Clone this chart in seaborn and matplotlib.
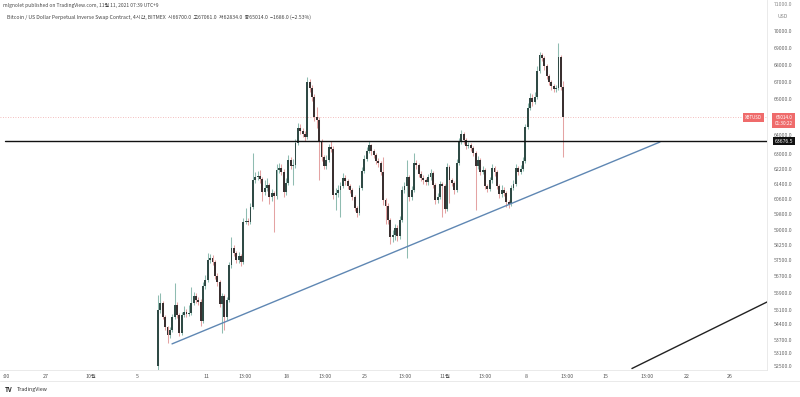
import numpy as np
import pandas as pd
import matplotlib
matplotlib.use("Agg")
import matplotlib.pyplot as plt
import seaborn as sns
from matplotlib.ticker import NullLocator

# 4시간봉 종가 / 고가 / 저가
first_open = 52490.0
closes = [
    55080, 55410, 54750, 54280, 53910, 54140, 54750, 55320, 54850, 54000,
    54850, 54990, 54890, 54940, 55410, 55750, 55560, 55460, 54560, 56230,
    56520, 57500, 57600, 57400, 56710, 56420, 55370, 55750, 54750, 55560,
    57250, 58100, 57850, 57500, 57700, 57400, 59410, 59460, 59410, 60180,
    61590, 61750, 61800, 61640, 60960, 61170, 61330, 60700, 60910, 60750,
    62120, 62230, 62010, 60960, 61430, 62660, 62340, 62390, 63580, 64400,
    64240, 64070, 63910, 67000, 66660, 66140, 65020, 64850, 63630, 62820,
    62340, 62660, 63360, 63250, 60800, 60910, 61060, 61270, 61700, 61540,
    61270, 61060, 60700, 60130, 59870, 61170, 62070, 62710, 63140, 63470,
    63140, 62930, 62600, 62500, 62010, 60540, 60230, 59510, 58650, 58750,
    59100, 58700, 59510, 61060, 61270, 61750, 60700, 61060, 62500, 62390,
    61910, 61700, 61590, 61480, 61750, 61960, 61330, 60540, 60700, 61380,
    61270, 60070, 62280, 61590, 61430, 61060, 62500, 63630, 64070, 63740,
    63420, 63470, 63310, 63040, 62340, 62660, 62010, 62120, 61270, 61120,
    61590, 62230, 62010, 61270, 60850, 61060, 60910, 60440, 60330, 61170,
    61380, 62230, 62010, 62170, 62600, 64460, 65520, 66080, 65860, 66140,
    67640, 68570, 68400, 67930, 67350, 67000, 66770, 66600, 66660, 68450,
    66700, 65014,
]
highs = [
    55800, 55900, 55500, 54850, 54350, 54300, 54900, 56370, 55450, 54950,
    55000, 55250, 55150, 55300, 56180, 55950, 55900, 55700, 55600, 56400,
    56750, 57850, 57800, 57750, 57500, 56850, 56500, 55900, 55850, 55700,
    57400, 58650, 58250, 57950, 57900, 57800, 59600, 60120, 59600, 60400,
    63040, 62000, 62050, 62100, 61750, 61600, 61700, 61450, 61100, 61000,
    62450, 62500, 62450, 62150, 61700, 62950, 62800, 62700, 63800, 64700,
    64600, 64400, 64250, 67290, 67150, 66800, 66300, 65600, 65000, 63800,
    62950, 62900, 63550, 63700, 63400, 61150, 61300, 61500, 61950, 61850,
    61650, 61400, 61150, 60800, 60250, 61350, 62300, 62900, 63350, 63700,
    63550, 63250, 63050, 62750, 62600, 62820, 60650, 60400, 59600, 59000,
    59300, 59250, 59700, 61250, 61500, 62660, 61850, 61250, 63040, 62650,
    62500, 62050, 61850, 61700, 61900, 62200, 62050, 61450, 60900, 61550,
    61500, 61400, 62500, 62400, 61700, 61550, 62700, 63850, 64290, 64200,
    63850, 63650, 63600, 63400, 63150, 62850, 62750, 62350, 62250, 61400,
    61750, 62450, 62350, 62100, 61400, 61300, 61200, 61000, 60550, 61350,
    61600, 62450, 62350, 62400, 62800, 64650, 65800, 66350, 66300, 66450,
    67900, 68750, 68700, 68500, 68050, 67450, 67100, 66900, 66850, 69280,
    68600, 67061,
]
lows = [
    52100, 54950, 54650, 54150, 53540, 53750, 54050, 54650, 54700, 53850,
    53900, 54750, 54750, 54800, 54850, 55300, 55400, 55300, 54350, 54450,
    56100, 56400, 57350, 57250, 56550, 56250, 55200, 54000, 54140, 54600,
    55450, 57100, 57700, 57350, 57350, 57200, 57300, 59300, 59250, 59300,
    60050, 61450, 61600, 61450, 60500, 60800, 61000, 60350, 60500, 58900,
    60600, 61950, 61850, 60700, 60800, 61300, 62150, 61330, 62250, 63450,
    64050, 63900, 63700, 63800, 66450, 65900, 64800, 64400, 61590, 62600,
    62150, 62200, 62550, 63100, 60600, 60020, 60700, 59660, 61150, 61350,
    61100, 60900, 60550, 59950, 59650, 59750, 61050, 61950, 62600, 63050,
    62950, 62750, 62450, 62300, 61850, 60300, 59300, 59300, 58300, 58400,
    58500, 58450, 58550, 59400, 60900, 57600, 60500, 60550, 60950, 62200,
    61750, 61550, 61400, 61300, 61350, 61600, 61150, 60350, 60400, 60600,
    59660, 59850, 59950, 60380, 61250, 60850, 60950, 62400, 63500, 63550,
    63250, 63300, 63150, 62850, 60020, 62200, 61850, 61900, 61100, 60950,
    61000, 61450, 61800, 61100, 60650, 60700, 60750, 60180, 60100, 60250,
    61050, 61250, 61850, 61900, 62050, 62500, 64350, 65400, 65650, 65750,
    66000, 67500, 68200, 67700, 67150, 66800, 66550, 66400, 66450, 66550,
    66550, 62834,
]

# 가격축 눈금
price_ticks = [70000, 69000, 68000, 67000, 66000, 64000, 63000, 62200, 61400,
               60600, 59800, 59000, 58250, 57500, 56700, 55900, 55100, 54400,
               53700, 53100, 52500]

# 시간축 라벨 (봉 인덱스 기준 위치)
time_pos = [-64, -47.3, -28.3, -8.9, 20.3, 36.7, 54, 70.5, 87.3, 104.2,
            121.1, 138, 155.3, 172.6, 189, 206.3, 223.2, 241.4]
time_labels = [":00", "27", "10월", "5", "11", "13:00", "18", "13:00", "25",
               "13:00", "11월", "13:00", "8", "13:00", "15", "13:00", "22", "26"]

# 수평선 / 추세선
level = 63676.5
last_price = 65014.0
trend_x = [5.9, 211.8]
trend_y = [53500, 63630]
trend2_x = [200, 257]
trend2_y = [52380, 55460]

df = pd.DataFrame({"close": closes, "high": highs, "low": lows})
df["open"] = [first_open] + closes[:-1]
df["i"] = np.arange(len(df))
df["up"] = df["close"] >= df["open"]

sns.set_theme(style="white")
plt.rcParams["font.family"] = ["Noto Sans CJK KR", "DejaVu Sans"]

fig = plt.figure(figsize=(8, 3.97), dpi=100)
ax = fig.add_axes([0.0, 27 / 397, 767 / 800, 370 / 397])
ax.set_yscale("log")

up_body, dn_body = "#2f4a45", "#3a3030"
up_wick, dn_wick = "#8fbcb1", "#e4a3a3"

for up, sub in df.groupby("up"):
    ax.vlines(sub["i"], sub["low"], sub["high"],
              color=up_wick if up else dn_wick, lw=0.75, zorder=2)
    bottom = np.minimum(sub["open"], sub["close"])
    height = np.abs(sub["close"] - sub["open"]).clip(lower=20)
    ax.bar(sub["i"], height, bottom=bottom, width=0.8,
           color=up_body if up else dn_body, lw=0, zorder=3)

# 추세선
sns.lineplot(x=trend_x, y=trend_y, ax=ax, color="#5f87b3", lw=1.0, zorder=4)
sns.lineplot(x=trend2_x, y=trend2_y, ax=ax, color="#222222", lw=1.0, zorder=4)

ax.axhline(level, xmin=5 / 767, color="#111111", lw=1.0, zorder=4)
ax.axhline(last_price, color="#f0a8a8", lw=0.6, ls=(0, (1, 2)), zorder=1)

ax.set_xlim(-66.7, 257)
ax.set_ylim(52313, 71889)

ax.yaxis.tick_right()
ax.set_yticks(price_ticks)
ax.set_yticklabels([f"{p:.1f}" for p in price_ticks])
ax.yaxis.set_minor_locator(NullLocator())
ax.tick_params(axis="y", length=0, pad=5, labelsize=3.7, labelcolor="#666666")
ax.set_xticks(time_pos)
ax.set_xticklabels(time_labels)
ax.tick_params(axis="x", length=0, pad=3, labelsize=3.8, labelcolor="#555555")
ax.grid(False)
for side in ["top", "left"]:
    ax.spines[side].set_visible(False)
ax.spines["bottom"].set_color("#e6e6e6")
ax.spines["right"].set_color("#e6e6e6")
ax.spines["bottom"].set_linewidth(0.6)
ax.spines["right"].set_linewidth(0.6)

# 라벨 박스
ax.annotate("XBTUSD", xy=(0.9825, last_price), xycoords=("axes fraction", "data"),
            ha="center", va="center", fontsize=3.2, color="white",
            bbox=dict(boxstyle="square,pad=0.45", fc="#ef6b6b", ec="none"))
ax.annotate("65014.0\n01:30:22", xy=(1.022, last_price - 200),
            xycoords=("axes fraction", "data"), ha="center", va="center",
            fontsize=3.4, color="white", linespacing=1.05, annotation_clip=False,
            bbox=dict(boxstyle="square,pad=0.5", fc="#ef6b6b", ec="none"))
ax.annotate("63676.5", xy=(1.022, level), xycoords=("axes fraction", "data"),
            ha="center", va="center", fontsize=3.7, color="white",
            annotation_clip=False,
            bbox=dict(boxstyle="square,pad=0.3", fc="#111111", ec="none"))

fig.text(783 / 800, 1 - 5 / 397, "71000.0", ha="center", va="center",
         fontsize=3.7, color="#888888")
fig.text(783 / 800, 1 - 17 / 397, "USD", ha="center", va="center",
         fontsize=3.7, color="#888888")

fig.text(3 / 800, 1 - 5 / 397,
         "mlgnolet published on TradingView.com, 11월 11, 2021 07:39 UTC+9",
         ha="left", va="center", fontsize=3.5, color="#444444")
fig.text(7 / 800, 1 - 17 / 397,
         "Bitcoin / US Dollar Perpetual Inverse Swap Contract, 4시간, BITMEX  "
         "시66700.0  고67061.0  저62834.0  종65014.0  −1686.0 (−2.53%)",
         ha="left", va="center", fontsize=3.7, color="#444444")

fig.add_artist(plt.Line2D([0, 1], [1 - 381 / 397] * 2, color="#e6e6e6", lw=0.6))
fig.text(5 / 800, 1 - 389 / 397, "TV", ha="left", va="center",
         fontsize=4.4, fontweight="bold", color="#222222")
fig.text(17 / 800, 1 - 389 / 397, "TradingView", ha="left", va="center",
         fontsize=3.8, color="#333333")

fig.savefig("out.png", dpi=100, facecolor="white")
